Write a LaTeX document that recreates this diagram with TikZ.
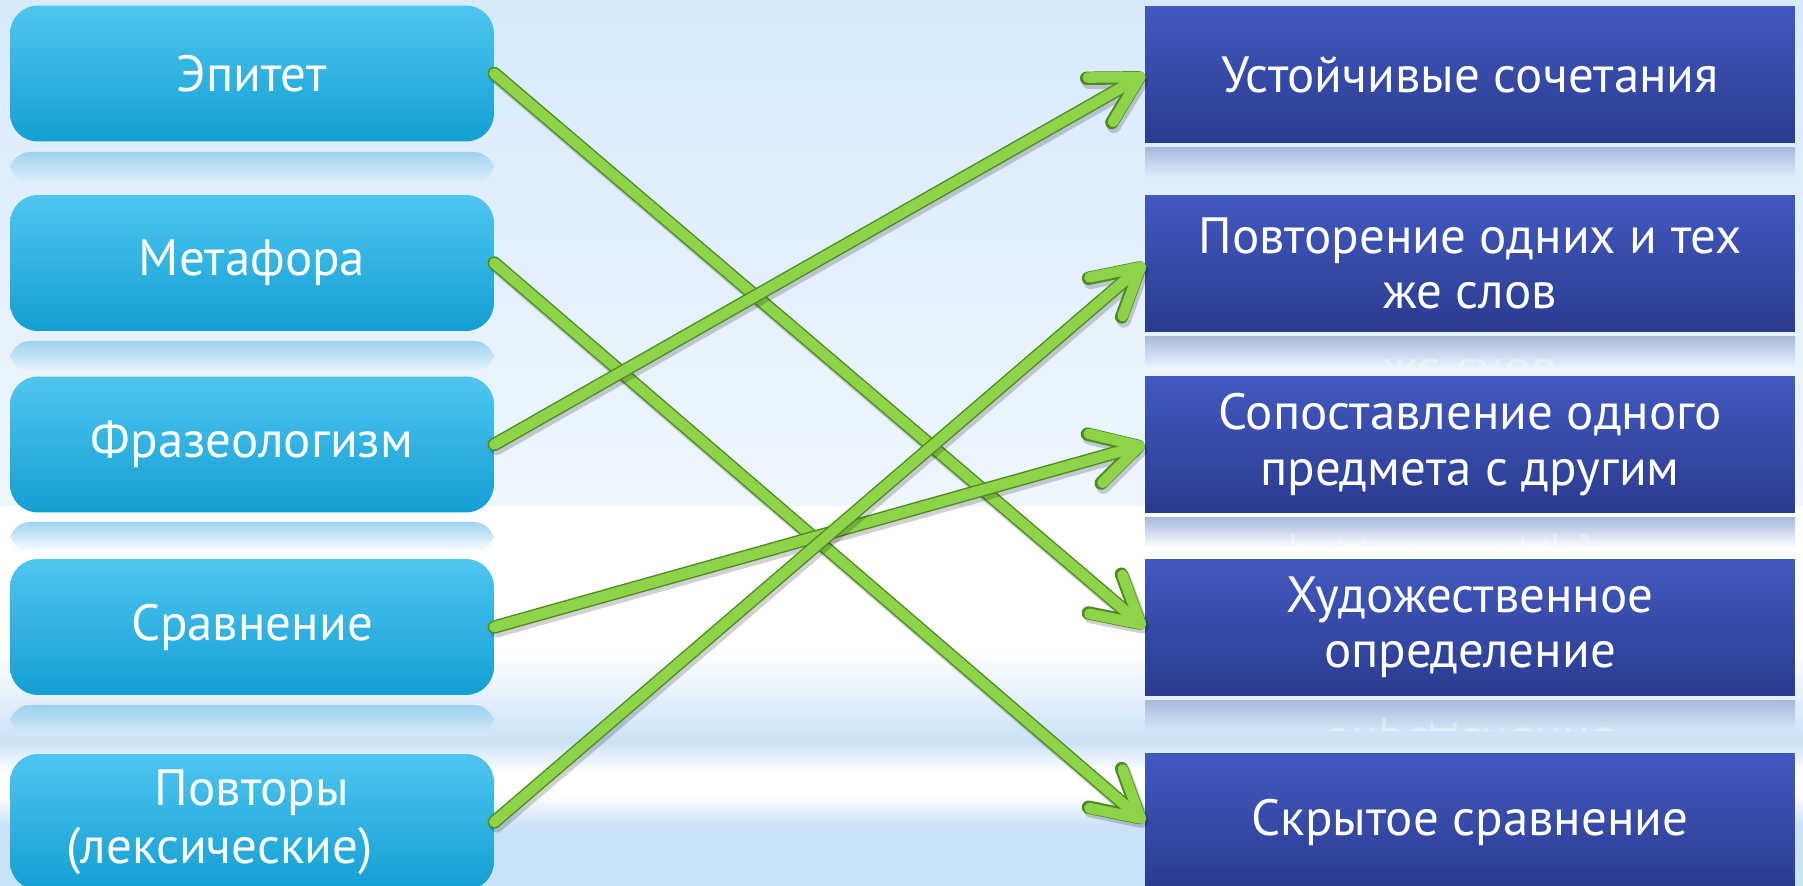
\documentclass[tikz,border=0pt]{standalone}
\usepackage{fontspec}
\setmainfont{PT Sans}
\usetikzlibrary{calc, arrows.meta, positioning}

\definecolor{bgtop}{HTML}{D7EAFA}
\definecolor{bgmid}{HTML}{EEF6FD}
\definecolor{bgband}{HTML}{CAE2F6}
\definecolor{cyanTop}{HTML}{4FC6F0}
\definecolor{cyanBot}{HTML}{139FD2}
\definecolor{navyTop}{HTML}{4259C0}
\definecolor{navyBot}{HTML}{2A3B8E}
\definecolor{reflL}{HTML}{9ED3EF}
\definecolor{reflR}{HTML}{A9BBDE}
\definecolor{lime}{HTML}{8DD448}
\definecolor{limeDark}{HTML}{4E8A22}

\pgfdeclareverticalshading{lowsky}{100bp}{color(0bp)=(bgband); color(33bp)=(bgband); color(37bp)=(white); color(40bp)=(white); color(44bp)=(bgband); color(50bp)=(bgband!50!white); color(56bp)=(white); color(100bp)=(white)}

\tikzset{
  term/.style={rounded corners=0.56cm, minimum width=9.68cm, minimum height=2.72cm,
    top color=cyanTop, bottom color=cyanBot, text=white, align=center, inner sep=0pt,
    font=\fontsize{29}{33}\selectfont},
  meaning/.style={minimum width=13cm, minimum height=2.74cm,
    top color=navyTop, bottom color=navyBot, text=white, align=center, inner sep=0pt,
    font=\fontsize{29}{31.5}\selectfont},
  glowL/.style={top color=reflL, rounded corners=0.4cm},
  glowR/.style={top color=reflR},
  ghost/.style={text=white, text opacity=0.35, align=center, font=\fontsize{29}{31.5}\selectfont},
  halo/.style={draw=black, draw opacity=0.18, line width=8pt, line cap=round},
  rim/.style={draw=limeDark, line width=7.6pt, line cap=round},
  link/.style={draw=lime, line width=6pt, line cap=round,
    -{Straight Barb[length=26pt, width=29pt, line cap=round, line join=round]}}
}

\begin{document}
\begin{tikzpicture}[x=0.02cm, y=0.02cm]
\useasboundingbox (0,0) rectangle (1803,886);
% background
\shade[top color=bgtop, bottom color=bgmid] (0,379) rectangle (1803,886);
\shade[shading=lowsky] (0,0) rectangle (1803,379);

% reflections
\shade[glowL, bottom color=bgmid!35!bgtop] (10,734) rectangle (494,704);
\shade[glowL, bottom color=bgmid!70!bgtop] (10,545) rectangle (494,515);
\shade[glowL, bottom color=white] (10,364) rectangle (494,334);
\shade[glowL, bottom color=bgband!80!white] (10,181) rectangle (494,151);
\shade[glowR, bottom color=bgmid!35!bgtop] (1145,738) rectangle (1795,708);
\shade[glowR, bottom color=bgmid!70!bgtop] (1145,549) rectangle (1795,519);
\shade[glowR, bottom color=white] (1145,368) rectangle (1795,338);
\shade[glowR, bottom color=bgband!80!white] (1145,185) rectangle (1795,155);

% left column
\node[term] (L1) at (252,812.5) {Эпитет};
\node[term] (L2) at (252,623) {Метафора};
\node[term] (L3) at (252,441.5) {Фразеологизм};
\node[term] (L4) at (252,259) {Сравнение};
\node[term] (L5) at (252,64) {Повторы\\(лексические)\hspace*{1.3cm}};

% right column
\node[meaning] (R1) at (1470,811.5) {Устойчивые сочетания};
\node[meaning] (R2) at (1470,622.5) {Повторение одних и тех\\же слов};
\node[meaning] (R3) at (1470,441.5) {Сопоставление одного\\предмета с другим};
\node[meaning] (R4) at (1470,258.5) {Художественное\\определение};
\node[meaning] (R5) at (1470,64) {Скрытое сравнение};

% mirrored text in the reflections
\begin{scope}
  \clip ($(R2.south west)+(0,-4)$) rectangle ($(R2.south east)+(0,-34)$);
  \node[ghost, yscale=-1] (R2m) at ($(R2.center)+(0,-141)$) {Повторение одних и тех\\же слов};
\end{scope}
\begin{scope}
  \clip ($(R3.south west)+(0,-4)$) rectangle ($(R3.south east)+(0,-34)$);
  \node[ghost, yscale=-1] (R3m) at ($(R3.center)+(0,-141)$) {Сопоставление одного\\предмета с другим};
\end{scope}
\begin{scope}
  \clip ($(R4.south west)+(0,-4)$) rectangle ($(R4.south east)+(0,-34)$);
  \node[ghost, yscale=-1] (R4m) at ($(R4.center)+(0,-141)$) {Художественное\\определение};
\end{scope}

% arrows
\draw[link, preaction={halo, transform canvas={xshift=1.4pt, yshift=-2pt}}, preaction={rim}] (L1.east) -- (R4.west);
\draw[link, preaction={halo, transform canvas={xshift=1.4pt, yshift=-2pt}}, preaction={rim}] (L2.east) -- (R5.west);
\draw[link, preaction={halo, transform canvas={xshift=1.4pt, yshift=-2pt}}, preaction={rim}] (L3.east) -- (R1.west);
\draw[link, preaction={halo, transform canvas={xshift=1.4pt, yshift=-2pt}}, preaction={rim}] (L4.east) -- (R3.west);
\draw[link, preaction={halo, transform canvas={xshift=1.4pt, yshift=-2pt}}, preaction={rim}] (L5.east) -- (R2.west);

\end{tikzpicture}
\end{document}
